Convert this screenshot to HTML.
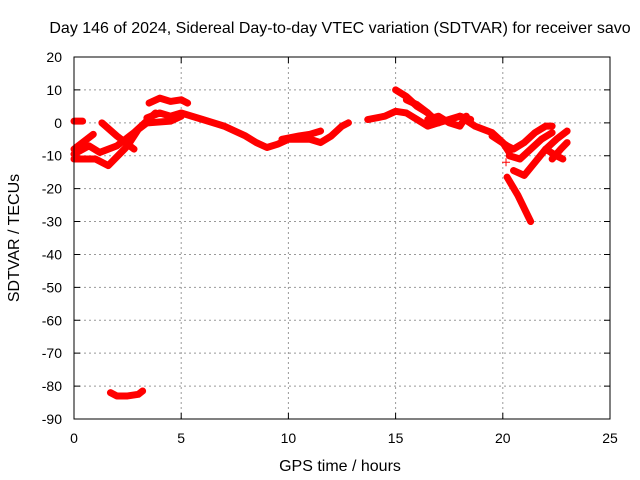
<!DOCTYPE html>
<html><head><meta charset="utf-8"><style>
body{margin:0;background:#fff}
svg{display:block;font-family:"Liberation Sans",sans-serif;font-size:14px}
.big{font-size:16px}
</style></head><body>
<svg id="c" width="640" height="480">
<text class="big" x="340" y="33" text-anchor="middle">Day 146 of 2024, Sidereal Day-to-day VTEC variation (SDTVAR) for receiver savo</text>
<text class="big" x="340" y="471" text-anchor="middle">GPS time / hours</text>
<text class="big" transform="translate(19,238) rotate(-90)" text-anchor="middle">SDTVAR / TECUs</text>
<g id="grid"></g><g id="axes"></g><g id="marks"></g>
<rect x="74" y="57" width="536" height="362" fill="none" stroke="#000" stroke-width="1"/>
</svg>
<script>
const xTicks=[0,5,10,15,20,25];
const yTicks=[20,10,0,-10,-20,-30,-40,-50,-60,-70,-80,-90];
const trackA=[[0,0.5],[0.4,0.5]];
const trackB=[[0,-8],[0.9,-3.5]];
const trackC=[[0,-11],[1,-11],[1.6,-13],[2.5,-7],[3,-2],[3.6,1]];
const trackD=[[0,-9.5],[0.7,-7],[1.2,-9],[2,-7],[2.8,-3],[3.3,0],[3.8,3]];
const trackE=[[1.3,0],[2,-4],[2.8,-8]];
const trackF=[[3.5,6],[4,7.5],[4.5,6.5],[5,7],[5.3,6]];
const trackG=[[3.4,1.5],[4,3],[4.5,2],[5,3],[5.5,2],[6,1],[7,-1],[8,-4],[8.5,-6],[9,-7.5],[9.5,-6.5],[10,-5],[11,-5],[11.5,-6],[12,-4],[12.5,-1],[12.8,0]];
const trackH=[[3.5,0],[4.5,0.5],[5,2]];
const trackI=[[9.7,-5],[10.5,-4],[11,-3.5],[11.5,-2.5]];
const trackJ=[[13.7,1],[14.5,2],[15,3.5],[15.5,3],[16,1],[16.5,-1],[17,0],[17.5,1],[18,2],[18.5,1]];
const trackJ2=[[16.5,1],[17,2],[17.5,0],[18,-1],[18.3,2]];
const trackK=[[15,10],[15.5,8],[16,5],[16.5,3],[17,0]];
const trackL=[[15.5,7],[16,5.5],[16.5,3]];
const trackM=[[18,2],[18.7,-1],[19.5,-3],[20,-6],[20.3,-9]];
const trackN=[[19.5,-4],[20.2,-7],[20.5,-8],[21,-6],[21.5,-3],[22,-1],[22.3,-1]];
const trackO=[[20.3,-10],[20.8,-11],[21.3,-8],[21.8,-5],[22.3,-3]];
const trackP=[[20.5,-14.5],[21,-16],[21.5,-12],[22,-8],[22.5,-5],[23,-2.5]];
const trackQ=[[22,-8],[22.5,-10],[22.8,-11]];
const trackR=[[22.3,-11],[22.7,-8],[23,-6]];
const trackS=[[20.2,-16.5],[20.7,-22],[21.3,-30]];
const trackT=[[1.7,-82],[2,-83],[2.5,-83],[3,-82.5],[3.2,-81.5]];
const tracks=[trackA,trackB,trackC,trackD,trackE,trackF,trackG,trackH,trackI,trackJ,trackJ2,trackK,trackL,trackM,trackN,trackO,trackP,trackQ,trackR,trackS,trackT];
const sx=h=>74+h*536/25, sy=v=>57+(20-v)*362/110;
const NS="http://www.w3.org/2000/svg";
const g=document.getElementById('grid'),a=document.getElementById('axes'),m=document.getElementById('marks');
function mk(t,at,p){const e=document.createElementNS(NS,t);for(const k in at)e.setAttribute(k,at[k]);p.appendChild(e);return e;}
xTicks.forEach(t=>{const x=sx(t);
 if(t>0&&t<25){const l=mk('line',{x1:x,x2:x,y1:57,y2:419,stroke:'#999','stroke-dasharray':'2,3'},g);
 
 }
 const tk=mk('path',{d:`M${x},419v-6M${x},57v6`,stroke:'#000'},a);
 
 
 const tx=mk('text',{x:x,y:443,'text-anchor':'middle'},a);tx.textContent=t;
 
 });
yTicks.forEach(t=>{const y=sy(t);
 if(t<20&&t>-90){const l=mk('line',{x1:74,x2:610,y1:y,y2:y,stroke:'#999','stroke-dasharray':'2,3'},g);
 
 }
 const tk=mk('path',{d:`M74,${y}h6M610,${y}h-6`,stroke:'#000'},a);
 
 
 const tx=mk('text',{x:62,y:y+5,'text-anchor':'end'},a);tx.textContent=t;
 
 });
tracks.forEach(tr=>{const p=mk('polyline',{points:tr.map(d=>sx(d[0])+','+sy(d[1])).join(' '),fill:'none',stroke:'#f00','stroke-width':7,'stroke-linejoin':'round','stroke-linecap':'round'},m);
 
 });
const pt=[20.15,-12];
const c=mk('path',{d:`M${sx(pt[0])-4},${sy(pt[1])}h8M${sx(pt[0])},${sy(pt[1])-4}v8`,stroke:'#f00'},m);


</script>
</body></html>
